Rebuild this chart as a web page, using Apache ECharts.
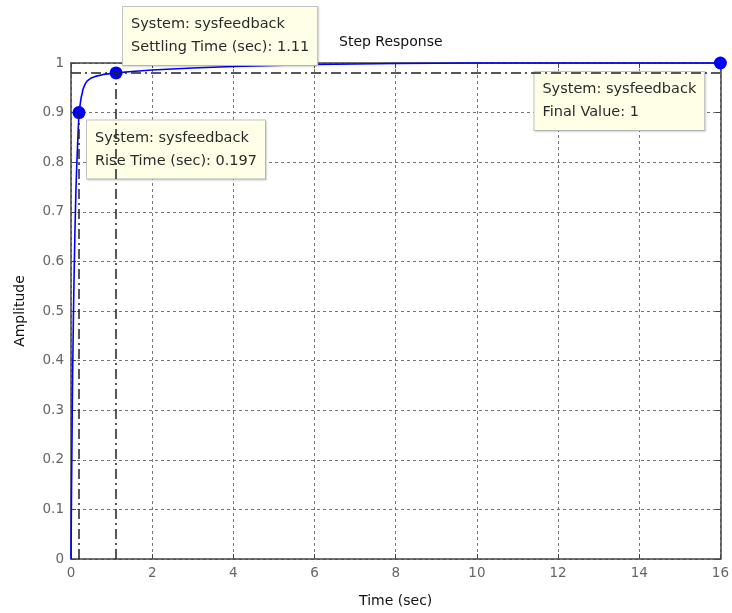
<!DOCTYPE html>
<html>
<head>
<meta charset="utf-8">
<script src="https://cdn.jsdelivr.net/npm/echarts@6/dist/echarts.min.js"></script>
<style>html,body{margin:0;padding:0;background:#fff;}#c{width:732px;height:613px;}</style>
</head>
<body>
<div id="c"></div>
<script>
// Step response samples
var timeSec = [0, 0.01, 0.02, 0.03, 0.04, 0.05, 0.06, 0.08, 0.10, 0.12, 0.14, 0.17, 0.197, 0.25, 0.3, 0.35, 0.4, 0.5, 0.6, 0.8, 1.11, 1.5, 2, 3, 4, 5, 6, 7, 8, 10, 12, 16];
var amplitude = [0, 0.11, 0.2, 0.29, 0.37, 0.43, 0.49, 0.59, 0.67, 0.74, 0.79, 0.85, 0.90, 0.93, 0.948, 0.958, 0.964, 0.97, 0.973, 0.977, 0.98, 0.983, 0.986, 0.99, 0.993, 0.995, 0.997, 0.998, 0.999, 1.0, 1.0, 1.0];

// Characteristic points
var riseTime = 0.197, riseLevel = 0.9;
var settleTime = 1.11, settleLevel = 0.98;
var finalTime = 16, finalValue = 1;

var xTicks = [0, 2, 4, 6, 8, 10, 12, 14, 16];
var yTicks = [0, 0.1, 0.2, 0.3, 0.4, 0.5, 0.6, 0.7, 0.8, 0.9, 1];

var systemName = 'sysfeedback';

var curve = timeSec.map(function (t, i) { return [t, amplitude[i]]; });

var boxStyle = {
  show: true,
  opacity: 1,
  backgroundColor: '#FFFFE8',
  borderColor: '#C4C4C4',
  borderWidth: 1,
  padding: [6, 8, 6, 8],
  fontFamily: 'DejaVu Sans',
  fontSize: 14.5,
  lineHeight: 23,
  color: '#2a2a2a',
  align: 'left',
  verticalAlign: 'top',
  shadowColor: 'rgba(0,0,0,0.12)',
  shadowBlur: 2,
  shadowOffsetX: 1,
  shadowOffsetY: 1
};
function box(text, pos) {
  return Object.assign({}, boxStyle, { formatter: text, position: pos });
}

var chart = echarts.init(document.getElementById('c'), null, { renderer: 'canvas' });
var axisCommon = {
  type: 'value',
  axisLine: { show: true, onZero: false, lineStyle: { color: '#444', width: 1.5 } },
  axisTick: { show: true, inside: true, length: 5, lineStyle: { color: '#444' } }
};
chart.setOption({
  backgroundColor: '#fff',
  animation: false,
  title: {
    text: 'Step Response',
    left: 339, top: 35, padding: 0,
    textStyle: { fontFamily: 'DejaVu Sans', fontSize: 14, fontWeight: 'normal', color: '#111' }
  },
  grid: { left: 71, right: 10, top: 63, bottom: 54, containLabel: false },
  xAxis: [
    Object.assign({}, axisCommon, {
      min: xTicks[0], max: xTicks[xTicks.length - 1], interval: xTicks[1] - xTicks[0],
      position: 'bottom',
      name: 'Time (sec)', nameLocation: 'middle', nameGap: 35,
      nameTextStyle: { fontFamily: 'DejaVu Sans', fontSize: 14, color: '#111' },
      axisLabel: { margin: 7, fontFamily: 'DejaVu Sans', fontSize: 13.5, color: '#666' },
      splitLine: { show: true, lineStyle: { color: '#777', type: [3, 3], width: 1 } }
    }),
    Object.assign({}, axisCommon, {
      min: xTicks[0], max: xTicks[xTicks.length - 1], interval: xTicks[1] - xTicks[0],
      position: 'top', axisLabel: { show: false }, splitLine: { show: false }
    })
  ],
  yAxis: [
    Object.assign({}, axisCommon, {
      min: yTicks[0], max: yTicks[yTicks.length - 1], interval: 0.1,
      position: 'left',
      name: 'Amplitude', nameLocation: 'middle', nameGap: 44, nameRotate: 90,
      nameTextStyle: { fontFamily: 'DejaVu Sans', fontSize: 14, color: '#111' },
      axisLabel: { margin: 7, fontFamily: 'DejaVu Sans', fontSize: 13.5, color: '#666',
        formatter: function (v) { return String(Math.round(v * 10) / 10); } },
      splitLine: { show: true, lineStyle: { color: '#777', type: [3, 3], width: 1 } }
    }),
    Object.assign({}, axisCommon, {
      min: yTicks[0], max: yTicks[yTicks.length - 1], interval: 0.1,
      position: 'right', axisLabel: { show: false }, splitLine: { show: false }
    })
  ],
  series: [
    {
      type: 'line',
      data: curve,
      showSymbol: false,
      clip: false,
      lineStyle: { color: '#0000FF', width: 1.6 },
      z: 3,
      markLine: {
        silent: true,
        symbol: 'none',
        label: { show: false },
        lineStyle: { color: '#222', width: 1.5, type: [10, 4, 2, 4] },
        data: [
          [{ coord: [xTicks[0], settleLevel] }, { coord: [finalTime, settleLevel] }],
          [{ coord: [riseTime, 0] }, { coord: [riseTime, riseLevel] }],
          [{ coord: [settleTime, 0] }, { coord: [settleTime, settleLevel] }]
        ]
      }
    },
    {
      type: 'scatter',
      symbolSize: 13,
      itemStyle: { color: '#0000FF', opacity: 1 },
      z: 4,
      data: [
        { value: [riseTime, riseLevel], label: box('System: ' + systemName + '\nRise Time (sec): ' + riseTime, [14.5, 14.5]) },
        { value: [settleTime, settleLevel], label: box('System: ' + systemName + '\nSettling Time (sec): ' + settleTime, [13.5, -59.5]) },
        { value: [finalTime, finalValue], label: box('System: ' + systemName + '\nFinal Value: ' + finalValue, [-179.5, 15.5]) }
      ]
    }
  ]
});
</script>
</body>
</html>
